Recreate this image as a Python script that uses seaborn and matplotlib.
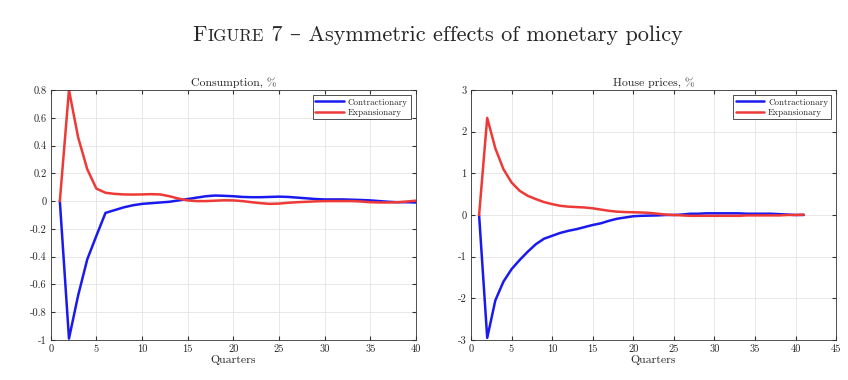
import matplotlib
matplotlib.use("Agg")
import matplotlib.pyplot as plt
from matplotlib.ticker import FuncFormatter
import seaborn as sns
import pandas as pd

sns.set_style("whitegrid")
plt.rcParams["font.family"] = ["cmr10", "DejaVu Serif"]
plt.rcParams["axes.unicode_minus"] = False
plt.rcParams["mathtext.fontset"] = "cm"

# Consumption, quarters 1..40
cons_q = list(range(1, 41))
cons_contr = [0, -0.99, -0.68, -0.42, -0.25, -0.085, -0.065, -0.045, -0.03, -0.02,
              -0.015, -0.01, -0.005, 0.005, 0.015, 0.025, 0.035, 0.04, 0.038, 0.035,
              0.03, 0.028, 0.028, 0.03, 0.032, 0.03, 0.025, 0.02, 0.015, 0.012,
              0.012, 0.012, 0.01, 0.008, 0.005, 0.0, -0.005, -0.008, -0.008, -0.01]
cons_expan = [0, 0.80, 0.46, 0.23, 0.09, 0.06, 0.052, 0.048, 0.047, 0.048,
              0.05, 0.048, 0.035, 0.018, 0.005, 0.0, 0.0, 0.003, 0.006, 0.005,
              0.0, -0.008, -0.015, -0.02, -0.018, -0.012, -0.008, -0.005, -0.002, 0.0,
              0.0, 0.0, 0.0, -0.003, -0.008, -0.01, -0.01, -0.008, -0.003, 0.003]

# House prices, quarters 1..41
house_q = list(range(1, 42))
house_contr = [0, -2.95, -2.05, -1.6, -1.3, -1.08, -0.88, -0.7, -0.57, -0.5,
               -0.43, -0.38, -0.34, -0.29, -0.24, -0.2, -0.14, -0.09, -0.06, -0.03,
               -0.02, -0.015, -0.01, 0.0, 0.0, 0.01, 0.03, 0.03, 0.04, 0.04,
               0.04, 0.04, 0.04, 0.03, 0.03, 0.03, 0.03, 0.02, 0.01, 0.0, 0.0]
house_expan = [0, 2.33, 1.6, 1.1, 0.78, 0.58, 0.46, 0.38, 0.31, 0.26,
               0.22, 0.2, 0.19, 0.18, 0.16, 0.13, 0.1, 0.08, 0.07, 0.065,
               0.06, 0.05, 0.03, 0.01, 0.0, -0.01, -0.02, -0.02, -0.02, -0.02,
               -0.02, -0.02, -0.02, -0.01, -0.01, -0.01, -0.01, -0.01, 0.0, 0.0, 0.01]

BLUE = "#1a1aee"
RED = "#ee3a36"


def fmt(v, pos):
    s = "%g" % round(v, 6)
    return "0" if s in ("-0", "0") else s


fig = plt.figure(figsize=(8.48, 3.8), dpi=100)
ax1 = fig.add_axes([0.0598, 0.1053, 0.4307, 0.6579])
ax2 = fig.add_axes([0.5554, 0.1053, 0.4307, 0.6579])

panels = [
    (ax1, cons_q, cons_contr, cons_expan, "Consumption, %", (0, 40), (-1, 0.8),
     list(range(0, 41, 5)), [-1, -0.8, -0.6, -0.4, -0.2, 0, 0.2, 0.4, 0.6, 0.8]),
    (ax2, house_q, house_contr, house_expan, "House prices, %", (0, 45), (-3, 3),
     list(range(0, 46, 5)), [-3, -2, -1, 0, 1, 2, 3]),
]

for ax, q, contr, expan, title, xl, yl, xt, yt in panels:
    df = pd.DataFrame({"Quarters": q * 2,
                       "value": contr + expan,
                       "shock": ["Contractionary"] * len(q) + ["Expansionary"] * len(q)})
    sns.lineplot(data=df, x="Quarters", y="value", hue="shock",
                 palette={"Contractionary": BLUE, "Expansionary": RED},
                 linewidth=1.8, ax=ax)
    ax.set_xlim(*xl)
    ax.set_ylim(*yl)
    ax.set_xticks(xt)
    ax.set_yticks(yt)
    ax.xaxis.set_major_formatter(FuncFormatter(fmt))
    ax.yaxis.set_major_formatter(FuncFormatter(fmt))
    ax.set_title(title, fontsize=8.5, pad=3)
    ax.set_xlabel("Quarters", fontsize=8.5, labelpad=1)
    ax.set_ylabel("")
    ax.tick_params(axis="both", direction="in", length=3, labelsize=7.5, pad=3,
                   color="#333333", top=True, right=True, left=True, bottom=True)
    ax.grid(True, color="#e4e4e4", linewidth=0.6)
    for sp in ax.spines.values():
        sp.set_visible(True)
        sp.set_color("#333333")
        sp.set_linewidth(0.6)
    leg = ax.legend(loc="upper right", fontsize=6.5, frameon=True, fancybox=False,
                    edgecolor="#333333", framealpha=1, handlelength=3.2,
                    borderpad=0.3, labelspacing=0.2, handletextpad=0.4,
                    borderaxespad=0.6)
    leg.get_frame().set_linewidth(0.6)

# Title with emulated small caps
fig.canvas.draw()
r = fig.canvas.get_renderer()
pieces = [("F", 16), ("IGURE", 12.3), (" 7 \u2013 Asymmetric effects of monetary policy", 16)]
texts = []
x = 0
for s, size in pieces:
    t = fig.text(x, 0.893, s, fontsize=size, ha="left", va="baseline")
    texts.append(t)
    x += t.get_window_extent(r).width / fig.bbox.width
total = x
start = 0.516 - total / 2
x = start
for t in texts:
    t.set_x(x)
    x += t.get_window_extent(r).width / fig.bbox.width

fig.savefig("out.png", dpi=100)
